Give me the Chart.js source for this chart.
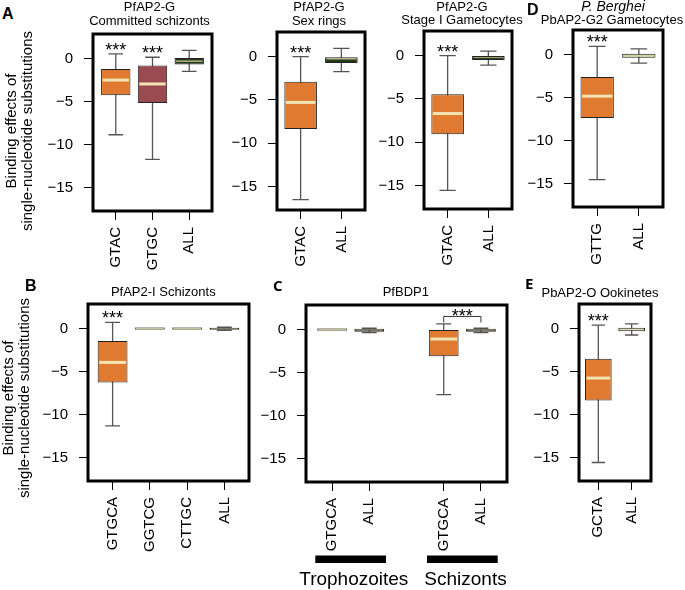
<!DOCTYPE html>
<html><head><meta charset="utf-8">
<script src="https://cdn.jsdelivr.net/npm/chart.js@4.4.1/dist/chart.umd.min.js"></script>
<style>
html,body{margin:0;padding:0;background:#fff}
body{width:685px;height:590px;position:relative;overflow:hidden;font-family:'Liberation Sans',Arial,Helvetica,sans-serif;color:#000}
canvas{position:absolute}
.t{position:absolute;white-space:nowrap;line-height:1}
</style></head>
<body>
<script>
// ---------------- DATA ----------------
const yTicks = [-15, -10, -5, 0];

// A: PfAP2-G Committed schizonts
const aCats = ['GTAC', 'GTGC', 'ALL'];
const aLow  = [-8.85, -11.7, -1.5];
const aQ1   = [-4.25, -5.15, -0.7];
const aMed  = [-2.5, -2.95, -0.3];
const aQ3   = [-1.2, -0.8, 0.05];
const aHigh = [0.55, 0.15, 0.95];
const aSig  = [true, true, false];

// A2: PfAP2-G Sex rings
const a2Cats = ['GTAC', 'ALL'];
const a2Low  = [-16.5, -1.72];
const a2Q1   = [-8.36, -0.72];
const a2Med  = [-5.28, -0.25];
const a2Q3   = [-2.88, 0.0];
const a2High = [0.0, 0.97];
const a2Sig  = [true, false];

// A3: PfAP2-G Stage I Gametocytes
const a3Cats = ['GTAC', 'ALL'];
const a3Low  = [-15.55, -1.09];
const a3Q1   = [-9.07, -0.5];
const a3Med  = [-6.68, -0.22];
const a3Q3   = [-4.44, -0.05];
const a3High = [0.0, 0.53];
const a3Sig  = [true, false];

// D: P. Berghei PbAP2-G2 Gametocytes
const dCats = ['GTTG', 'ALL'];
const dLow  = [-14.52, -1.0];
const dQ1   = [-7.38, -0.37];
const dMed  = [-4.83, -0.16];
const dQ3   = [-2.62, 0.1];
const dHigh = [0.94, 0.67];
const dSig  = [true, false];

// B: PfAP2-I Schizonts
const bCats = ['GTGCA', 'GGTCG', 'CTTGC', 'ALL'];
const bLow  = [-11.29, 0, 0, -0.2];
const bQ1   = [-6.25, 0, 0, -0.15];
const bMed  = [-3.93, 0, 0, -0.02];
const bQ3   = [-1.45, 0, 0, 0.1];
const bHigh = [0.72, 0, 0, 0.15];
const bSig  = [true, false, false, false];

// C: PfBDP1
const cCats = ['GTGCA', 'ALL', 'GTGCA', 'ALL'];
const cPos  = [1, 2, 4, 5];
const cLow  = [0, -0.36, -7.55, -0.36];
const cQ1   = [0, -0.25, -3.1, -0.25];
const cMed  = [0, -0.05, -1.1, -0.05];
const cQ3   = [0, 0.1, 0.0, 0.1];
const cHigh = [0, 0.15, 0.65, 0.15];
const cSig  = [false, false, false, false];
const cCompare = [[4, 5]];
const cGroups = ['Trophozoites', 'Schizonts'];
const cGroupSpan = [[1, 2], [4, 5]];

// E: PbAP2-O Ookinetes
const eCats = ['GCTA', 'ALL'];
const eLow  = [-15.55, -0.75];
const eQ1   = [-8.36, -0.3];
const eMed  = [-5.75, -0.1];
const eQ3   = [-3.5, 0.1];
const eHigh = [0.4, 0.55];
const eSig  = [true, false];

// ---------------- STYLE / LAYOUT ----------------
const FONT = "'Liberation Sans', Arial, Helvetica, sans-serif";
const ORANGE = '#DF7A30', MAROON = '#9A4A51', DKGREEN = '#22381A',
      PALEGREEN = '#B7C796', SAGE = '#C4CBA9', FLAT = '#E9E2B4', DARK = '#1E2419';
const YMIN = -17.7, YMAX = 2.85;
const YW = 60, PT = 24, PR = 10, XH = 75;

const panels = [
  { cats: aCats, low: aLow, q1: aQ1, med: aMed, q3: aQ3, high: aHigh, sig: aSig,
    colors: [ORANGE, MAROON, DKGREEN], frame: [93.3, 33.5, 212.7, 210] },
  { cats: a2Cats, low: a2Low, q1: a2Q1, med: a2Med, q3: a2Q3, high: a2High, sig: a2Sig,
    colors: [ORANGE, DKGREEN], frame: [276.7, 31.5, 365, 209] },
  { cats: a3Cats, low: a3Low, q1: a3Q1, med: a3Med, q3: a3Q3, high: a3High, sig: a3Sig,
    colors: [ORANGE, DKGREEN], frame: [424, 31, 512, 209] },
  { cats: dCats, low: dLow, q1: dQ1, med: dMed, q3: dQ3, high: dHigh, sig: dSig,
    colors: [ORANGE, PALEGREEN], frame: [572.5, 29.5, 662, 206.7] },
  { cats: bCats, low: bLow, q1: bQ1, med: bMed, q3: bQ3, high: bHigh, sig: bSig,
    colors: [ORANGE, FLAT, FLAT, DARK], frame: [88.3, 304, 249.3, 481] },
  { cats: cCats, pos: cPos, low: cLow, q1: cQ1, med: cMed, q3: cQ3, high: cHigh, sig: cSig,
    compare: cCompare, groupSpan: cGroupSpan,
    colors: [FLAT, DARK, ORANGE, DARK], frame: [306, 304.5, 507.3, 481.7], extraBottom: 15 },
  { cats: eCats, low: eLow, q1: eQ1, med: eMed, q3: eQ3, high: eHigh, sig: eSig,
    colors: [ORANGE, SAGE], frame: [579, 304.3, 650.7, 481] }
];

function makePlugin(p) {
  return {
    id: 'boxplot',
    beforeDatasetsDraw(chart) {
      const ctx = chart.ctx, xs = chart.scales.x, ys = chart.scales.y;
      const meta = chart.getDatasetMeta(0);
      ctx.save();
      ctx.strokeStyle = '#555'; ctx.lineWidth = 1.3;
      p.pos.forEach((v, i) => {
        const x = xs.getPixelForValue(v), hw = meta.data[i].width / 2, cw = hw / 2;
        const yl = ys.getPixelForValue(p.low[i]), yh = ys.getPixelForValue(p.high[i]);
        if (yl - yh < 0.5) return;
        ctx.beginPath();
        ctx.moveTo(x, yl); ctx.lineTo(x, yh);
        ctx.moveTo(x - cw, yl); ctx.lineTo(x + cw, yl);
        ctx.moveTo(x - cw, yh); ctx.lineTo(x + cw, yh);
        ctx.stroke();
      });
      ctx.restore();
    },
    afterDatasetsDraw(chart) {
      const ctx = chart.ctx, xs = chart.scales.x, ys = chart.scales.y, ca = chart.chartArea;
      const meta = chart.getDatasetMeta(0);
      ctx.save();
      p.pos.forEach((v, i) => {
        const x = xs.getPixelForValue(v), hw = meta.data[i].width / 2;
        const ym = ys.getPixelForValue(p.med[i]);
        if (p.q3[i] - p.q1[i] < 0.01) {
          ctx.strokeStyle = '#5b5a44'; ctx.lineWidth = 2;
          ctx.beginPath(); ctx.moveTo(x - hw, ym); ctx.lineTo(x + hw, ym); ctx.stroke();
          ctx.strokeStyle = FLAT; ctx.lineWidth = 0.8;
          ctx.beginPath(); ctx.moveTo(x - hw + 1, ym); ctx.lineTo(x + hw - 1, ym); ctx.stroke();
        } else {
          const h = ys.getPixelForValue(p.q1[i]) - ys.getPixelForValue(p.q3[i]);
          ctx.strokeStyle = '#F3E4B4';
          ctx.lineWidth = h >= 12 ? 3 : Math.max(0.6, h / 6);
          ctx.beginPath(); ctx.moveTo(x - hw + 1.5, ym); ctx.lineTo(x + hw - 1.5, ym); ctx.stroke();
        }
        if (p.sig[i]) {
          const yh = ys.getPixelForValue(p.high[i]);
          ctx.fillStyle = '#000'; ctx.font = '18px ' + FONT;
          ctx.textAlign = 'center'; ctx.textBaseline = 'alphabetic';
          ctx.fillText('***', x, yh + 2);
        }
      });
      (p.compare || []).forEach(([a, b]) => {
        const ia = p.pos.indexOf(a), ib = p.pos.indexOf(b);
        const top = Math.min(ys.getPixelForValue(p.high[ia]), ys.getPixelForValue(p.high[ib]));
        const xa = xs.getPixelForValue(a), xb = xs.getPixelForValue(b);
        const yb = top - 7.5;
        ctx.strokeStyle = '#333'; ctx.lineWidth = 1;
        ctx.beginPath(); ctx.moveTo(xa, yb + 6); ctx.lineTo(xa, yb); ctx.lineTo(xb, yb); ctx.lineTo(xb, yb + 6); ctx.stroke();
        ctx.fillStyle = '#000'; ctx.font = '18px ' + FONT;
        ctx.textAlign = 'center'; ctx.textBaseline = 'alphabetic';
        ctx.fillText('***', (xa + xb) / 2, yb + 6);
      });
      (p.groupSpan || []).forEach(([a, b]) => {
        const x1 = xs.getPixelForValue(a - 0.45), x2 = xs.getPixelForValue(b + 0.45);
        ctx.fillStyle = '#000';
        ctx.fillRect(x1, ca.bottom + 73.5, x2 - x1, 7.5);
      });
      ctx.strokeStyle = '#000'; ctx.lineWidth = 3;
      ctx.strokeRect(ca.left, ca.top, ca.right - ca.left, ca.bottom - ca.top);
      ctx.restore();
    }
  };
}

panels.forEach(p => {
  if (!p.pos) p.pos = p.cats.map((_, i) => i + 1);
  const [l, t, r, b] = p.frame;
  const eb = p.extraBottom || 0;
  const cv = document.createElement('canvas');
  const w = Math.round(r - l + YW + PR), h = Math.round(b - t + PT + XH + eb);
  cv.width = w; cv.height = h;
  cv.style.left = (l - YW) + 'px'; cv.style.top = (t - PT) + 'px';
  cv.style.width = w + 'px'; cv.style.height = h + 'px';
  document.body.appendChild(cv);
  const n = Math.max(...p.pos);
  const pad = 0.04 * n;
  const axisGrid = { drawOnChartArea: false, drawTicks: true, tickLength: 9, color: '#000', lineWidth: 1, offset: false };
  new Chart(cv.getContext('2d'), {
    type: 'bar',
    data: {
      datasets: [{
        data: p.pos.map((x, i) => ({ x: x, y: [p.q1[i], p.q3[i]] })),
        backgroundColor: p.colors,
        borderColor: '#222',
        borderWidth: 1,
        borderSkipped: false,
        barPercentage: 0.8,
        categoryPercentage: 1
      }]
    },
    options: {
      responsive: false, animation: false, devicePixelRatio: 1,
      layout: { padding: { left: 0, top: PT, right: PR, bottom: eb } },
      plugins: { legend: { display: false }, tooltip: { enabled: false }, title: { display: false } },
      scales: {
        x: {
          type: 'linear', offset: false, min: 0.5 - pad, max: n + 0.5 + pad,
          afterBuildTicks: s => { s.ticks = p.pos.map(v => ({ value: v })); },
          afterFit: s => { s.height = XH; },
          ticks: { autoSkip: false, maxRotation: 90, minRotation: 90, padding: 7, color: '#000',
                   font: { family: FONT, size: 15 },
                   callback: v => p.cats[p.pos.indexOf(v)] },
          grid: axisGrid, border: { display: false }
        },
        y: {
          type: 'linear', min: YMIN, max: YMAX,
          afterBuildTicks: s => { s.ticks = yTicks.map(v => ({ value: v })); },
          afterFit: s => { s.width = YW; },
          ticks: { padding: 11, color: '#000', font: { family: FONT, size: 15 },
                   callback: v => v < 0 ? '\u2212' + (-v) : String(v) },
          grid: axisGrid, border: { display: false }
        }
      }
    },
    plugins: [makePlugin(p)]
  });
});

// ---------------- TEXT ----------------
function txt(s, x, base, size, opt) {
  opt = opt || {};
  const d = document.createElement('div');
  d.className = 't'; d.textContent = s;
  d.style.fontSize = size + 'px';
  d.style.top = (base - 0.8465 * size) + 'px';
  d.style.left = x + 'px';
  if (!opt.left) d.style.transform = 'translateX(-50%)';
  if (opt.bold) d.style.fontWeight = 'bold';
  if (opt.italic) d.style.fontStyle = 'italic';
  if (opt.family) d.style.fontFamily = opt.family;
  document.body.appendChild(d);
}
function ylab(cx, cy, lines, size, lh) {
  const d = document.createElement('div');
  d.className = 't';
  d.style.fontSize = size + 'px'; d.style.lineHeight = lh + 'px';
  d.style.textAlign = 'center'; d.style.width = '300px';
  d.style.height = (lh * lines.length) + 'px';
  d.style.left = (cx - 150) + 'px'; d.style.top = (cy - lh * lines.length / 2) + 'px';
  d.style.transform = 'rotate(-90deg)';
  lines.forEach(s => { const sp = document.createElement('div'); sp.textContent = s; d.appendChild(sp); });
  document.body.appendChild(d);
}
const OPEN = "'Open Sans', 'Liberation Sans', sans-serif";
txt('A', 2, 20, 16, { left: true, bold: true });
txt('B', 25, 291.5, 16, { left: true, bold: true });
txt('C', 273, 291, 15, { left: true, bold: true, family: OPEN });
txt('D', 527, 15.5, 16, { left: true, bold: true });
txt('E', 525, 288.5, 15, { left: true, bold: true, family: OPEN });

txt('PfAP2-G', 149.5, 11.5, 13); txt('Committed schizonts', 149.5, 25.5, 13);
txt('PfAP2-G', 319, 11.5, 13); txt('Sex rings', 319, 25, 13);
txt('PfAP2-G', 462, 10.5, 13); txt('Stage I Gametocytes', 462, 24.5, 13);
txt('P. Berghei', 613, 10.5, 14, { italic: true }); txt('PbAP2-G2 Gametocytes', 612, 24.5, 13);
txt('PfAP2-I Schizonts', 163.3, 296.5, 13);
txt('PfBDP1', 405.8, 296.5, 13);
txt('PbAP2-O Ookinetes', 600, 297, 13);
txt('Trophozoites', 353.8, 585, 19);
txt('Schizonts', 465.5, 585, 19);

ylab(18.5, 131, ['Binding effects of', 'single-nucleotide substitutions'], 15, 16);
ylab(16, 398, ['Binding effects of', 'single-nucleotide substitutions'], 15, 16);
</script>
</body></html>
